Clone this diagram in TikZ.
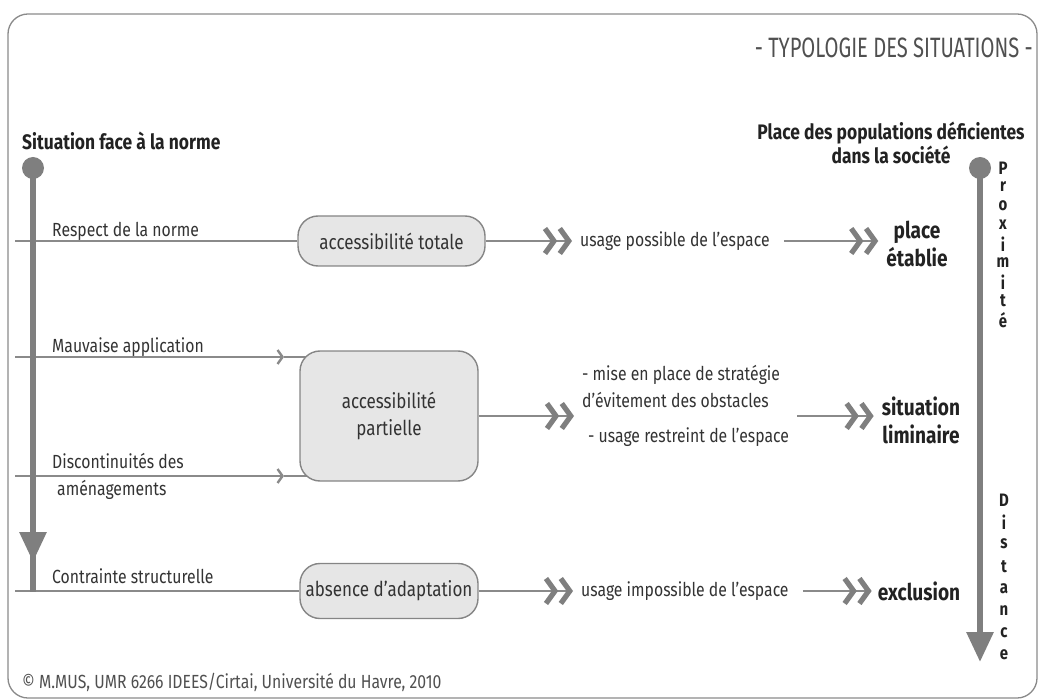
\documentclass[tikz,border=0pt]{standalone}
\usepackage{fontspec}
\setmainfont{Fira Sans}[FakeStretch=0.83]
\newfontfamily\titlefont{Fira Sans}[FakeStretch=0.72]
\usetikzlibrary{arrows.meta,backgrounds}

\definecolor{axisgray}{HTML}{7F7F7F}
\definecolor{linegray}{HTML}{8A8A8A}
\definecolor{boxfill}{HTML}{E6E6E6}
\definecolor{boxline}{HTML}{858585}
\definecolor{txtgray}{HTML}{333333}
\definecolor{darktxt}{HTML}{222222}
\definecolor{titlegray}{HTML}{505050}

\tikzset{
  dchev/.tip={Straight Barb[length=9pt,width=25pt,line width=5.2pt,color=axisgray,sep=0pt]
              Straight Barb[length=9pt,width=25pt,line width=5.2pt,color=axisgray]},
  schev/.tip={Straight Barb[length=5pt,width=14pt,line width=2.4pt]}
}

\begin{document}
\begin{tikzpicture}[x=1pt,y=-1pt,
  box/.style={draw=boxline, line width=1.4pt, fill=boxfill, rounded corners=20pt, inner sep=0pt,
              align=center, text=txtgray, font=\fontsize{20.5}{27}\selectfont},
  lbl/.style={text=txtgray, font=\fontsize{19}{27}\selectfont, inner sep=0pt},
  big/.style={text=darktxt, font=\bfseries\fontsize{23}{28}\selectfont, align=center, inner sep=0pt},
  vlet/.style={text=darktxt, font=\bfseries\fontsize{18}{18}\selectfont, inner sep=0pt},
  thinline/.style={draw=linegray, line width=1.6pt},
  axis/.style={draw=axisgray, line width=6pt},
  dot/.style={circle, fill=axisgray, minimum size=22pt, inner sep=0pt}]
\useasboundingbox (0,0) rectangle (1043,700);
% Frame
\draw[linegray, line width=1.3pt, rounded corners=20pt] (8,14) rectangle (1037,698);
\node[anchor=base east, inner sep=0pt, text=titlegray, font=\titlefont\fontsize{28}{32}\selectfont] (title) at (1033,58) {- TYPOLOGIE DES SITUATIONS -};

% Left axis
\node[big, anchor=base west, font=\bfseries\fontsize{21}{25}\selectfont] (lhead) at (22,150) {Situation face à la norme};
\node[dot] (ltop) at (33,168) {};
\coordinate (larr) at (33,562);
\coordinate (lend) at (33,592);
\foreach \n/\y in {r1/241,r2/357,r3/476,r4/591}
  \coordinate (\n) at (15,\y);

% Boxes
\node[box, minimum width=187pt, minimum height=50pt] (tot) at (391.5,241) {accessibilité totale};
\node[box, minimum width=178pt, minimum height=130pt] (part) at (389,416) {accessibilité\\partielle};
\node[box, minimum width=178pt, minimum height=55pt] (abs) at (389,591) {absence d'adaptation};

% Situations
\node[lbl, anchor=base west] (t1) at (52,237) {Respect de la norme};
\node[lbl, anchor=base west] (t2) at (52,352) {Mauvaise application};
\node[lbl, anchor=base west] (t3) at (52,468) {Discontinuités des};
\node[lbl, anchor=base west] (t3b) at (57,495) {aménagements};
\node[lbl, anchor=base west] (t4) at (52,583) {Contrainte structurelle};

\begin{scope}[on background layer]
\draw[thinline] (r1) -- (tot.west);
\draw[thinline] (r4) -- (abs.west);
\foreach \n in {r2,r3} {
  \coordinate (\n a) at ([xshift=269pt]\n);
  \draw[thinline, -{schev}] (\n) -- (\n a);
  \draw[thinline] (\n a) -- ([xshift=20pt]part.west |- \n);
}
\end{scope}
\draw[axis, -{Triangle[length=30pt,width=26pt]}] (ltop.center) -- (larr);
\draw[axis] (larr) ++(0,-8) -- (lend);

% Usages
\node[lbl, anchor=west] (u1) at (580,241) {usage possible de l'espace};
\node[lbl, anchor=west, align=left] (m1) at (582,387) {- mise en place de stratégie\\d'évitement des obstacles};
\node[lbl, anchor=base west] (m2) at (588,442) {- usage restreint de l'espace};
\node[lbl, anchor=west] (u3) at (581,591) {usage impossible de l'espace};
\draw[thinline, -{dchev}, shorten >=8pt] (tot.east) -- (u1.west);
\draw[thinline, -{dchev}, shorten >=8pt] (part.east) -- (m1.west |- part.east);
\draw[thinline, -{dchev}, shorten >=8pt] (abs.east) -- (u3.west);

% Places
\node[big, font=\bfseries\fontsize{21}{24}\selectfont] (phead) at (891,143) {Place des populations déficientes\\dans la société};
\node[big] (pl) at (917,244) {place\\établie};
\node[big] (lim) at (921,420) {situation\\liminaire};
\node[big] (exc) at (919,591) {exclusion};
\draw[thinline, -{dchev}, shorten >=8pt] ([xshift=14pt]u1.east) -- (pl.west |- u1.east);
\draw[thinline, -{dchev}, shorten >=8pt] ([xshift=8pt]m2.east |- part.east) -- (lim.west |- part.east);
\draw[thinline, -{dchev}, shorten >=6pt] ([xshift=14pt]u3.east) -- (exc.west);

% Right axis
\node[dot] (rtop) at (980,168) {};
\coordinate (rend) at (980,662);
\draw[axis, -{Triangle[length=30pt,width=26pt]}] (rtop.center) -- (rend);
\foreach \c [count=\i from 0] in {P,r,o,x,i,m,i,t,é}
  \node[vlet] (p\i) at (1003,168+19*\i) {\c};
\foreach \c [count=\i from 0] in {D,i,s,t,a,n,c,e}
  \node[vlet] (d\i) at (1004,500+22.1*\i) {\c};

\node[anchor=base west, inner sep=0pt, text=titlegray, font=\fontsize{19}{22}\selectfont] (foot) at (22,688) {© M.MUS, UMR 6266 IDEES/Cirtai, Université du Havre, 2010};
\end{tikzpicture}
\end{document}
